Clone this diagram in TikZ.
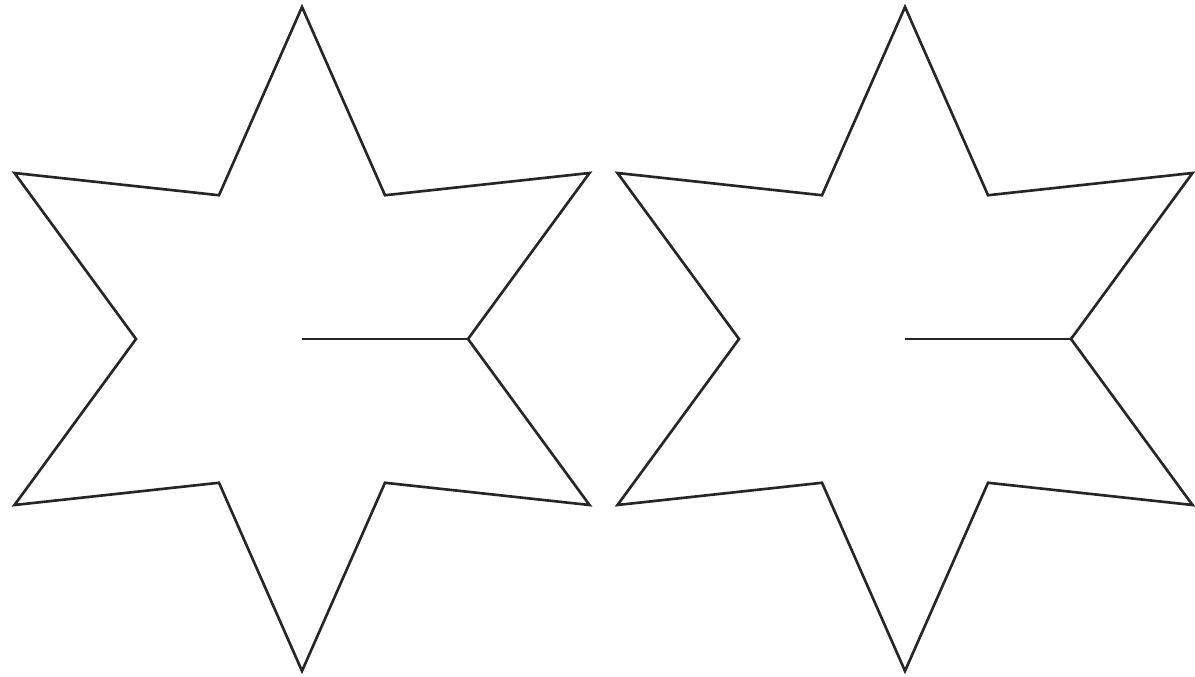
\documentclass[tikz,border=0pt]{standalone}
\usetikzlibrary{calc}
\begin{document}
\begin{tikzpicture}[
    x=0.01cm, y=-0.01cm,
    edge/.style={draw=black!85, line width=0.75pt, line join=miter}
]
    \useasboundingbox (0,0) rectangle (1195,676);
    \coordinate (left) at (302,339);
    \coordinate (right) at (905,339);

    \foreach \c in {left,right} {
        \draw [edge] ($(\c)+(-90:332)$)
            \foreach \k in {1,...,11} { -- ($(\c)+({-90+30*\k}:{332-166*mod(\k,2)})$) } -- cycle;
        \coordinate (\c-in) at ($(\c)+(0:167)$);
        \draw [edge] (\c) -- (\c-in);
    }
\end{tikzpicture}
\end{document}
